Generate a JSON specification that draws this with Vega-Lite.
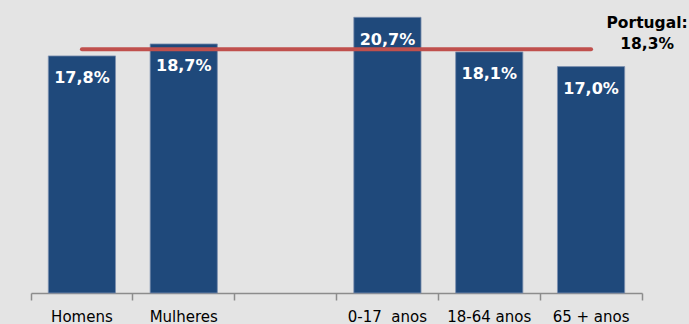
{
  "$schema": "https://vega.github.io/schema/vega-lite/v6.json",
  "width": 611,
  "height": 293,
  "autosize": "none",
  "padding": {"left": 31, "top": 0, "right": 47, "bottom": 31},
  "background": "#e4e4e4",
  "config": {
    "view": {"stroke": null},
    "font": "DejaVu Sans"
  },
  "datasets": {
    "bars": [
      {"cat": "Homens", "value": 17.8, "label": "17,8%"},
      {"cat": "Mulheres", "value": 18.7, "label": "18,7%"},
      {"cat": "0-17 \u00a0anos", "value": 20.7, "label": "20,7%"},
      {"cat": "18-64 anos", "value": 18.1, "label": "18,1%"},
      {"cat": "65 + anos", "value": 17.0, "label": "17,0%"}
    ],
    "ref": [
      {"cat": "Homens", "value": 18.3},
      {"cat": "65 + anos", "value": 18.3}
    ],
    "note": [
      {"cat": "65 + anos", "value": 18.3, "label": "Portugal:\n18,3%"}
    ]
  },
  "encoding": {
    "x": {
      "field": "cat",
      "type": "nominal",
      "sort": null,
      "scale": {
        "domain": ["Homens", "Mulheres", " ", "0-17 \u00a0anos", "18-64 anos", "65 + anos"],
        "paddingInner": 0,
        "paddingOuter": 0
      },
      "axis": {
        "title": null,
        "labelAngle": 0,
        "labelFontSize": 15,
        "labelColor": "#000000",
        "labelPadding": 9,
        "domainColor": "#8c8c8c",
        "domainWidth": 1.5,
        "tickColor": "#8c8c8c",
        "tickWidth": 1.5,
        "tickSize": 7,
        "bandPosition": 1,
        "tickExtra": true,
        "grid": false
      }
    },
    "y": {
      "field": "value",
      "type": "quantitative",
      "scale": {"domain": [0, 22], "nice": false, "zero": true},
      "axis": null
    }
  },
  "layer": [
    {
      "data": {"name": "bars"},
      "mark": {"type": "bar", "color": "#1f497b", "stroke": "#7d90b0", "strokeWidth": 0.8, "width": {"band": 0.66}}
    },
    {
      "data": {"name": "ref"},
      "mark": {"type": "line", "color": "#c0504d", "strokeWidth": 4, "strokeCap": "round"}
    },
    {
      "data": {"name": "bars"},
      "mark": {"type": "text", "color": "#ffffff", "fontWeight": "bold", "fontSize": 16, "baseline": "alphabetic", "dy": 27.5},
      "encoding": {"text": {"field": "label"}}
    },
    {
      "data": {"name": "note"},
      "mark": {"type": "text", "color": "#000000", "fontWeight": "bold", "fontSize": 15.5, "baseline": "alphabetic", "align": "center", "dx": 56, "dy": -21.6, "lineBreak": "\n", "lineHeight": 21.6},
      "encoding": {"text": {"field": "label"}}
    }
  ]
}
